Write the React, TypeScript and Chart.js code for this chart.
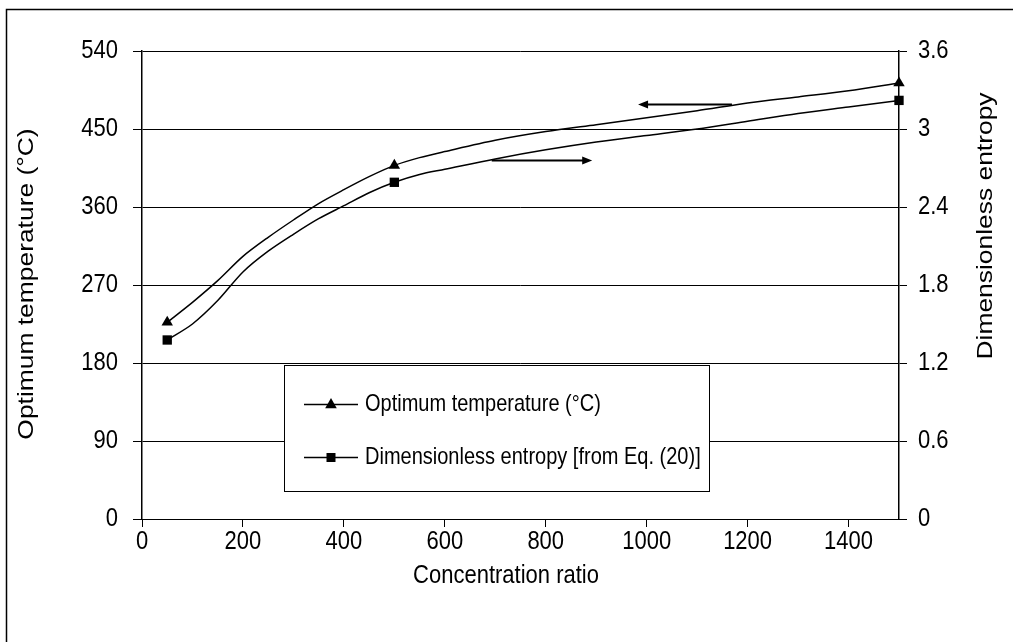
import React, { useEffect, useRef } from "react";
import { Chart, registerables } from "chart.js";

Chart.register(...registerables);

// ---- data ----
const concentration = [50, 100, 150, 200, 250, 300, 350, 400, 450, 500, 550, 600, 700, 800, 900, 1000, 1100, 1200, 1300, 1400, 1500];
const optimumTemperature = [227, 250, 275, 303, 325, 345, 364, 380, 395, 408, 417, 424, 437, 447, 455, 463, 471, 480, 487, 494, 503];
const dimensionlessEntropy = [1.377, 1.5, 1.68, 1.9, 2.06, 2.19, 2.31, 2.41, 2.51, 2.59, 2.65, 2.69, 2.77, 2.84, 2.9, 2.95, 3.0, 3.06, 3.12, 3.17, 3.22];
const markerConcentrations = [50, 500, 1500];

const xTicks = [0, 200, 400, 600, 800, 1000, 1200, 1400];
const temperatureTicks = [0, 90, 180, 270, 360, 450, 540];
const entropyTicks = [0, 0.6, 1.2, 1.8, 2.4, 3, 3.6];

const seriesLabels = ["Optimum temperature (°C)", "Dimensionless entropy [from Eq. (20)]"];
const xTitle = "Concentration ratio";
const leftTitle = "Optimum temperature (°C)";
const rightTitle = "Dimensionless entropy";

// arrows: [fromConcentration, toConcentration, value on its own axis]
const temperatureArrow = [1169, 983, 479];
const entropyArrow = [693, 892, 2.76];

const FONT = "'Liberation Sans', Arial, sans-serif";
const FS = 22;
const LEGEND_FS = 20;
const STRETCH = 1.2; // text in the reference is slightly taller than wide

function drawText(ctx: CanvasRenderingContext2D, text: string, x: number, y: number, align: CanvasTextAlign, rotated = false, size = FS) {
  ctx.save();
  ctx.fillStyle = "#000";
  ctx.font = `${size}px ${FONT}`;
  ctx.textAlign = align;
  ctx.textBaseline = "middle";
  ctx.translate(x, y);
  if (rotated) {
    ctx.rotate(-Math.PI / 2);
    ctx.scale(STRETCH, 1);
  } else {
    ctx.scale(1, STRETCH);
  }
  ctx.fillText(text, 0, 0);
  ctx.restore();
}

function drawMarker(ctx: CanvasRenderingContext2D, style: string, x: number, y: number) {
  ctx.save();
  ctx.fillStyle = "#000";
  ctx.beginPath();
  if (style === "triangle") {
    ctx.moveTo(x, y - 6.5);
    ctx.lineTo(x + 5.8, y + 3.8);
    ctx.lineTo(x - 5.8, y + 3.8);
    ctx.closePath();
  } else {
    ctx.rect(x - 4.5, y - 4.5, 9, 9);
  }
  ctx.fill();
  ctx.restore();
}

function drawArrow(ctx: CanvasRenderingContext2D, x1: number, x2: number, y: number) {
  const dir = Math.sign(x2 - x1);
  ctx.save();
  ctx.strokeStyle = "#000";
  ctx.fillStyle = "#000";
  ctx.lineWidth = 2;
  ctx.beginPath();
  ctx.moveTo(x1, y);
  ctx.lineTo(x2 - dir * 8, y);
  ctx.stroke();
  ctx.beginPath();
  ctx.moveTo(x2, y);
  ctx.lineTo(x2 - dir * 10, y - 4);
  ctx.lineTo(x2 - dir * 10, y + 4);
  ctx.closePath();
  ctx.fill();
  ctx.restore();
}

const fmt = (v: number) => String(Number(v.toFixed(2)));

const decorPlugin = {
  id: "decor",
  beforeDraw(chart: any) {
    const ctx = chart.ctx as CanvasRenderingContext2D;
    ctx.save();
    ctx.fillStyle = "#fff";
    ctx.fillRect(0, 0, chart.width, chart.height);
    ctx.strokeStyle = "#000";
    ctx.lineWidth = 1.5;
    ctx.beginPath();
    ctx.moveTo(6.5, chart.height + 10);
    ctx.lineTo(6.5, 9.5);
    ctx.lineTo(chart.width + 10, 9.5);
    ctx.stroke();
    ctx.restore();
  },
  afterDatasetsDraw(chart: any) {
    const ctx = chart.ctx as CanvasRenderingContext2D;
    const xs = chart.scales.x;
    const yT = chart.scales.yT;
    const yE = chart.scales.yE;

    // tick labels, placed through the chart's own scales
    xs.ticks.forEach((t: any) => drawText(ctx, fmt(t.value), xs.getPixelForValue(t.value), 542, "center"));
    yT.ticks.forEach((t: any) => drawText(ctx, fmt(t.value), 118, yT.getPixelForValue(t.value), "right"));
    yE.ticks.forEach((t: any) => drawText(ctx, fmt(t.value), 918, yE.getPixelForValue(t.value), "left"));

    // arrows
    drawArrow(ctx, xs.getPixelForValue(temperatureArrow[0]), xs.getPixelForValue(temperatureArrow[1]), Math.round(yT.getPixelForValue(temperatureArrow[2])) + 0.5);
    drawArrow(ctx, xs.getPixelForValue(entropyArrow[0]), xs.getPixelForValue(entropyArrow[1]), Math.round(yE.getPixelForValue(entropyArrow[2])) + 0.5);

    // axis titles
    drawText(ctx, xTitle, 506, 576, "center");
    drawText(ctx, leftTitle, 27, 284, "center", true);
    drawText(ctx, rightTitle, 986, 226, "center", true);

    // legend box
    ctx.save();
    ctx.font = `${LEGEND_FS}px ${FONT}`;
    const textW = Math.max(...seriesLabels.map((s) => ctx.measureText(s).width));
    const bx = 284.5, by = 365.5, bh = 126;
    const bw = Math.round(365 + textW + 9 - bx);
    ctx.fillStyle = "#fff";
    ctx.fillRect(bx, by, bw, bh);
    ctx.strokeStyle = "#000";
    ctx.lineWidth = 1;
    ctx.strokeRect(bx, by, bw, bh);
    ctx.restore();
    const rows = [404, 457];
    const styles = ["triangle", "rect"];
    rows.forEach((ry, i) => {
      ctx.save();
      ctx.strokeStyle = "#000";
      ctx.lineWidth = 1.5;
      ctx.beginPath();
      ctx.moveTo(304, ry + 0.5);
      ctx.lineTo(358, ry + 0.5);
      ctx.stroke();
      ctx.restore();
      drawMarker(ctx, styles[i], 331, ry + 0.5);
      drawText(ctx, seriesLabels[i], 365, ry, "left", false, LEGEND_FS);
    });
  },
};

const isMarker = (c: any) => markerConcentrations.includes(concentration[c.dataIndex]) ? 6.6 : 0;

export default function App() {
  const ref = useRef<HTMLCanvasElement | null>(null);
  useEffect(() => {
    if (!ref.current) return;
    const chart = new Chart(ref.current, {
      type: "line",
      data: {
        datasets: [
          {
            label: seriesLabels[0],
            data: concentration.map((c, i) => ({ x: c, y: optimumTemperature[i] })),
            yAxisID: "yT",
            borderColor: "#000",
            backgroundColor: "#000",
            borderWidth: 1.5,
            tension: 0.3,
            pointStyle: "triangle",
            pointRadius: isMarker,
            pointBorderWidth: 0,
            clip: false,
          },
          {
            label: seriesLabels[1],
            data: concentration.map((c, i) => ({ x: c, y: dimensionlessEntropy[i] })),
            yAxisID: "yE",
            borderColor: "#000",
            backgroundColor: "#000",
            borderWidth: 1.5,
            tension: 0.3,
            pointStyle: "rect",
            pointRadius: isMarker,
            pointBorderWidth: 0,
            clip: false,
          },
        ],
      },
      options: {
        animation: false,
        responsive: false,
        devicePixelRatio: 1,
        layout: { padding: { top: 51, left: 0, right: 0, bottom: 0 } },
        plugins: { legend: { display: false }, tooltip: { enabled: false } },
        scales: {
          x: {
            type: "linear",
            min: 0,
            max: 1500,
            afterBuildTicks: (s: any) => { s.ticks = xTicks.map((v) => ({ value: v })); },
            afterFit: (s: any) => { s.height = 123; },
            ticks: { display: false },
            grid: { drawOnChartArea: false, color: "#000", tickLength: 8, lineWidth: 1 },
            border: { display: true, color: "#000", width: 1 },
          },
          yT: {
            type: "linear",
            position: "left",
            min: 0,
            max: 540,
            afterBuildTicks: (s: any) => { s.ticks = temperatureTicks.map((v) => ({ value: v })); },
            afterFit: (s: any) => { s.width = 142; },
            ticks: { display: false },
            grid: { color: "#000", tickLength: 9, lineWidth: 1 },
            border: { display: true, color: "#000", width: 1.5 },
          },
          yE: {
            type: "linear",
            position: "right",
            min: 0,
            max: 3.6,
            afterBuildTicks: (s: any) => { s.ticks = entropyTicks.map((v) => ({ value: v })); },
            afterFit: (s: any) => { s.width = 114; },
            ticks: { display: false },
            grid: { drawOnChartArea: false, color: "#000", tickLength: 8, lineWidth: 1 },
            border: { display: true, color: "#000", width: 1.5 },
          },
        },
      },
      plugins: [decorPlugin],
    } as any);
    return () => chart.destroy();
  }, []);
  return (
    <div style={{ position: "fixed", left: 0, top: 0, width: 1013, height: 642, background: "#fff" }}>
      <canvas ref={ref} width={1013} height={642} style={{ display: "block" }} />
    </div>
  );
}
